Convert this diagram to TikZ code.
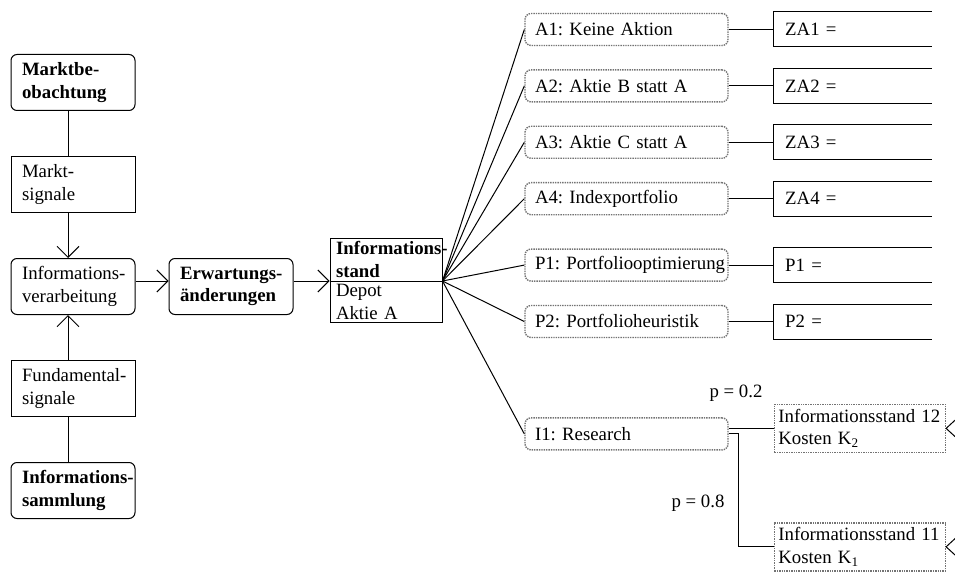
\documentclass[tikz,border=0pt]{standalone}
\usepackage{fontspec}
\setmainfont{Liberation Serif}
\usetikzlibrary{positioning,arrows.meta,shapes.multipart}
\tikzset{>={Straight Barb[length=11pt,width=22pt]}}
\newcommand{\sizefont}{\fontsize{18.8}{22.5}\selectfont}
\hyphenpenalty=10000
\exhyphenpenalty=10000
\frenchspacing
\tikzset{
  box/.style={draw, rectangle, text width=102pt, inner xsep=11pt, inner ysep=3pt,
    minimum height=56pt, align=left},
  rbox/.style={box, rounded corners=6pt},
  bold/.style={font=\sizefont\bfseries},
  alt/.style={draw=black!55, densely dotted, line width=1.4pt, rounded corners=6pt,
    text width=183pt, inner xsep=10pt, inner ysep=3pt, minimum height=32pt, align=left},
  res/.style={text width=135pt, inner xsep=11pt, minimum height=34pt, align=left},
  info/.style={draw=black!55, densely dotted, line width=1.4pt, text width=163pt,
    inner xsep=4pt, inner ysep=3pt, minimum height=48pt, align=left},
  stand/.style={draw, rectangle split, rectangle split parts=2, text width=100pt,
    inner xsep=6pt, inner ysep=3pt, align=left}
}

\begin{document}
\begin{tikzpicture}[x=1pt, y=-1pt, line width=1pt, font=\sizefont]
    \useasboundingbox (0,0) rectangle (955,572);
    \clip (0,0) rectangle (955,572);
    % left column
    \node[rbox, bold] (mb) at (73,82.5) {Marktbe-\\obachtung};
    \node[box] (ms) [below=45pt of mb] {Markt-\\signale};
    \node[rbox] (iv) [below=45pt of ms] {Informations-\\verarbeitung};
    \node[box] (fs) [below=45pt of iv] {Fundamental-\\signale};
    \node[rbox, bold] (isa) [below=45pt of fs] {Informations-\\sammlung};
    \node[rbox, bold] (ew) [right=33pt of iv] {Erwartungs-\\änderungen};
    \node[stand, anchor=text split west] (st) at ([xshift=36pt,yshift=5.5pt]ew.east)
        {\textbf{Informations-\\stand} \nodepart{two} Depot\\Aktie A};
    \draw ([xshift=-5pt]mb.south) -- ([xshift=-5pt]ms.north);
    \draw[->] ([xshift=-5pt]ms.south) -- ([xshift=-5pt]iv.north);
    \draw[->] ([xshift=-5pt]fs.north) -- ([xshift=-5pt]iv.south);
    \draw ([xshift=-5pt]fs.south) -- ([xshift=-5pt]isa.north);
    \draw[->] ([yshift=5.5pt]iv.east) -- ([yshift=5.5pt]ew.west);
    \draw[->] ([yshift=5.5pt]ew.east) -- (st.text split west);
    % alternatives
    \node[alt] (a1) at (626.5,29.5) {A1: Keine Aktion};
    \node[alt] (a2) [below=23pt of a1] {A2: Aktie B statt A};
    \node[alt] (a3) [below=23pt of a2] {A3: Aktie C statt A};
    \node[alt] (a4) [below=23pt of a3] {A4: Indexportfolio};
    \node[alt] (p1) [below=33pt of a4] {P1:~Portfoliooptimierung};
    \node[alt] (p2) [below=23pt of p1] {P2: Portfolioheuristik};
    \node[alt] (i1) [below=79pt of p2] {I1: Research};
    \path (st.text split east) edge (a1.west)
                               edge (a2.west)
                               edge (a3.west)
                               edge (a4.west)
                               edge (p1.west)
                               edge (p2.west)
                               edge (i1.west);
    % results
    \node[res] (za1) [right=45pt of a1] {ZA1 =};
    \node[res] (za2) [right=45pt of a2] {ZA2 =};
    \node[res] (za3) [right=45pt of a3] {ZA3 =};
    \node[res] (za4) [right=45pt of a4] {ZA4 =};
    \node[res] (zp1) [right=45pt of p1] {P1 =};
    \node[res] (zp2) [right=45pt of p2] {P2 =};
    \foreach \a/\z in {a1/za1,a2/za2,a3/za3,a4/za4,p1/zp1,p2/zp2} {
        \draw (\a) -- (\z.west);
        \draw (\z.north east) -- (\z.north west) -- (\z.south west) -- (\z.south east);
    }
    % research
    \node[info] (inf12) [right=45pt of i1, yshift=5.5pt] {Informationsstand~12\\Kosten K\textsubscript{2}};
    \node[info] (inf11) [below=69pt of inf12] {Informationsstand~11\\Kosten K\textsubscript{1}};
    \node (pa) at (736,393) {p = 0.2};
    \node (pb) at (698,503) {p = 0.8};
    \draw (i1.east |- inf12.west) -- (inf12.west);
    \draw (i1.east) -- ++(10,0) |- (inf11.west);
    \draw ([shift={(12,-11)}]inf12.east) -- (inf12.east) -- ++(12,11);
    \draw ([shift={(12,-11)}]inf11.east) -- (inf11.east) -- ++(12,11);
\end{tikzpicture}
\end{document}
